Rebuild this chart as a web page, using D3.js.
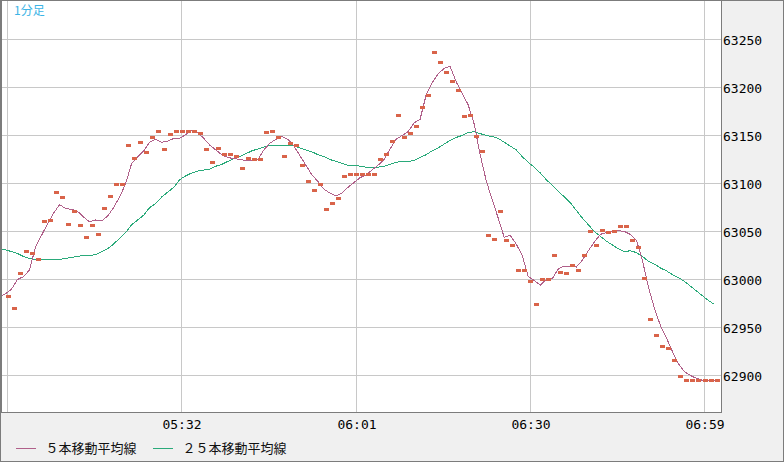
<!DOCTYPE html>
<html><head><meta charset="utf-8">
<script src="https://cdn.jsdelivr.net/npm/d3@7"></script>
<style>
html,body{margin:0;padding:0;background:#fff;}
svg{display:block;}
</style></head><body>
<svg id="c" width="784" height="462"></svg>
<script>
const times = [
"05:02","05:03","05:04","05:05","05:06","05:07","05:08","05:09","05:10","05:11",
"05:12","05:13","05:14","05:15","05:16","05:17","05:18","05:19","05:20","05:21",
"05:22","05:23","05:24","05:25","05:26","05:27","05:28","05:29","05:30","05:31",
"05:32","05:33","05:34","05:35","05:36","05:37","05:38","05:39","05:40","05:41",
"05:42","05:43","05:44","05:45","05:46","05:47","05:48","05:49","05:50","05:51",
"05:52","05:53","05:54","05:55","05:56","05:57","05:58","05:59","06:00","06:01",
"06:02","06:03","06:04","06:05","06:06","06:07","06:08","06:09","06:10","06:11",
"06:12","06:13","06:14","06:15","06:16","06:17","06:18","06:19","06:20","06:21",
"06:22","06:23","06:24","06:25","06:26","06:27","06:28","06:29","06:30","06:31",
"06:32","06:33","06:34","06:35","06:36","06:37","06:38","06:39","06:40","06:41",
"06:42","06:43","06:44","06:45","06:46","06:47","06:48","06:49","06:50","06:51",
"06:52","06:53","06:54","06:55","06:56","06:57","06:58","06:59","07:00","07:01"];

const closePrice = [
null,62983,62970,63007,63030,63028,63021,63061,63062,63091,
63086,63058,63071,63057,63044,63057,63047,63074,63087,63100,
63100,63140,63127,63143,63133,63148,63155,63136,63152,63155,
63155,63155,63155,63153,63136,63122,63137,63131,63131,63129,
63116,63127,63125,63125,63154,63155,63148,63129,63142,63140,
63119,63103,63093,63099,63073,63080,63085,63108,63110,63110,
63110,63110,63110,63125,63131,63144,63171,63148,63153,63160,
63180,63192,63237,63227,63216,63207,63197,63170,63171,63150,
63134,63046,63042,63071,63041,63036,63010,63010,62998,62974,
63001,63001,63025,63008,63007,63015,63010,63026,63050,63036,
63052,63049,63050,63056,63056,63041,63034,63002,62959,62942,
62931,62929,62916,62900,62895,62895,62895,62895,62895,62895];

const ma5 = [
62982,62985,62990,63000,63003,63010,63034,63046,63058,63069,
63078,63074,63073,63071,63065,63060,63062,63061,63066,63075,
63086,63100,63121,63128,63134,63143,63146,63143,63144,63147,
63147,63151,63155,63153,63147,63140,63135,63130,63127,63126,
63125,63124,63124,63125,63135,63142,63146,63149,63146,63139,
63129,63119,63109,63102,63094,63090,63087,63090,63096,63101,
63106,63109,63114,63119,63125,63136,63146,63150,63154,63163,
63167,63192,63205,63214,63220,63222,63206,63194,63182,63162,
63130,63103,63083,63064,63044,63046,63037,63025,63003,62999,
62994,63000,63001,63011,63014,63014,63013,63020,63030,63039,
63047,63049,63050,63051,63050,63047,63041,63020,62992,62970,
62952,62939,62925,62912,62904,62900,62897,62895,62895,62895];

const ma25 = [
63032,63031,63029,63027,63024,63022,63021,63021,63021,63021,
63021,63022,63023,63024,63025,63025,63026,63029,63032,63037,
63043,63049,63057,63062,63067,63075,63079,63086,63091,63096,
63104,63108,63111,63113,63114,63115,63118,63120,63123,63126,
63128,63131,63134,63136,63138,63140,63140,63140,63140,63139,
63137,63135,63133,63130,63128,63125,63123,63121,63119,63119,
63118,63117,63117,63117,63118,63120,63122,63123,63123,63124,
63127,63130,63134,63137,63141,63145,63148,63150,63153,63154,
63152,63150,63149,63147,63143,63139,63135,63128,63122,63117,
63111,63104,63098,63092,63086,63080,63072,63064,63057,63050,
63045,63040,63036,63032,63029,63030,63028,63024,63019,63016,
63012,63009,63005,63002,62998,62993,62988,62983,62978,62974];

const xGridTimes = ["05:03","05:32","06:01","06:30","06:59"];
const xTickLabels = ["","05:32","06:01","06:30","06:59"];
const yTicks = [62900,62950,63000,63050,63100,63150,63200,63250];
const seriesNames = ["５本移動平均線","２５本移動平均線"];
const titleText = "1分足";

const COL_MARK = "#d9644a", COL_MA5 = "#b0608a", COL_MA25 = "#2aaa7a";
const toMin = t => { const p = t.split(":").map(Number); return p[0]*60 + p[1]; };

const svg = d3.select("#c");
const W = 784, H = 462;
const PL = 1, PT = 1, PR = 721, PB = 412;

const x = d3.scaleLinear().domain([toMin("05:03"), toMin("06:59")]).range([7.5, 704.5]);
const y = d3.scaleLinear().domain([62900, 63250]).range([375.5, 39.5]);

svg.append("rect").attr("x",0).attr("y",0).attr("width",W).attr("height",H).attr("fill","#f0f0f0");
svg.append("rect").attr("x",PL).attr("y",PT).attr("width",PR-PL).attr("height",PB-PT).attr("fill","#fff");

const grid = svg.append("g").attr("stroke","#c8c8c8").attr("stroke-width",1).attr("shape-rendering","crispEdges");
grid.selectAll("line.h").data(yTicks).enter().append("line")
  .attr("x1",PL).attr("x2",PR).attr("y1",d=>y(d)).attr("y2",d=>y(d));
grid.selectAll("line.v").data(xGridTimes).enter().append("line")
  .attr("x1",d=>Math.floor(x(toMin(d)))+0.5).attr("x2",d=>Math.floor(x(toMin(d)))+0.5)
  .attr("y1",PT).attr("y2",PB);

svg.append("clipPath").attr("id","clip").append("rect")
  .attr("x",PL+1).attr("y",PT).attr("width",PR-PL-1).attr("height",PB-PT);
const plot = svg.append("g").attr("clip-path","url(#clip)");

const pts = times.map((t,i)=>({m:toMin(t), c:closePrice[i], a:ma5[i], b:ma25[i]}));

const lineOf = key => d3.line().x(d=>x(d.m)-2).y(d=>y(d[key]));
plot.append("path").datum(pts).attr("d",lineOf("b")).attr("fill","none")
  .attr("stroke",COL_MA25).attr("stroke-width",1).attr("shape-rendering","crispEdges");
plot.append("path").datum(pts).attr("d",lineOf("a")).attr("fill","none")
  .attr("stroke",COL_MA5).attr("stroke-width",1).attr("shape-rendering","crispEdges");

plot.selectAll("rect.mk").data(pts.filter(d=>d.c!=null)).enter().append("rect")
  .attr("x",d=>Math.round(x(d.m))-2).attr("y",d=>Math.round(y(d.c))-1)
  .attr("width",5).attr("height",3).attr("fill",COL_MARK);

// borders
const bd = svg.append("g").attr("stroke","#7c7c7c").attr("stroke-width",1).attr("shape-rendering","crispEdges").attr("fill","none");
bd.append("rect").attr("x",0.5).attr("y",0.5).attr("width",W-1).attr("height",H-1);
bd.append("line").attr("x1",1.5).attr("x2",1.5).attr("y1",0).attr("y2",PB);
bd.append("line").attr("x1",PR+0.5).attr("x2",PR+0.5).attr("y1",0).attr("y2",PB+1);
bd.append("line").attr("x1",0).attr("x2",PR+1).attr("y1",PB+0.5).attr("y2",PB+0.5);

// y labels
svg.append("g").selectAll("text").data(yTicks).enter().append("text")
  .attr("x",723).attr("y",d=>y(d)+5)
  .attr("font-family","DejaVu Sans Mono").attr("font-size",13).attr("fill","#000")
  .text(d=>d);

// x labels
svg.append("g").selectAll("text").data(xGridTimes).enter().append("text")
  .attr("x",d=>Math.floor(x(toMin(d)))+1).attr("y",429)
  .attr("text-anchor","middle")
  .attr("font-family","DejaVu Sans Mono").attr("font-size",13).attr("fill","#000")
  .text((d,i)=>xTickLabels[i]);

// title
svg.append("text").attr("x",14).attr("y",15).attr("font-family","Noto Sans CJK JP")
  .attr("font-size",12).attr("fill","#3cb4e6").text(titleText);

// legend
const legCols = [COL_MA5, COL_MA25];
const legX = [16, 153];
const lg = svg.append("g");
seriesNames.forEach((n,i)=>{
  lg.append("line").attr("x1",legX[i]).attr("x2",legX[i]+20).attr("y1",448.5).attr("y2",448.5)
    .attr("stroke",legCols[i]).attr("stroke-width",1).attr("shape-rendering","crispEdges");
  lg.append("text").attr("x",legX[i]+29.5).attr("y",452.5)
    .attr("font-family","Noto Sans CJK JP").attr("font-size",13).attr("fill","#111").text(n);
});
</script>
</body></html>
